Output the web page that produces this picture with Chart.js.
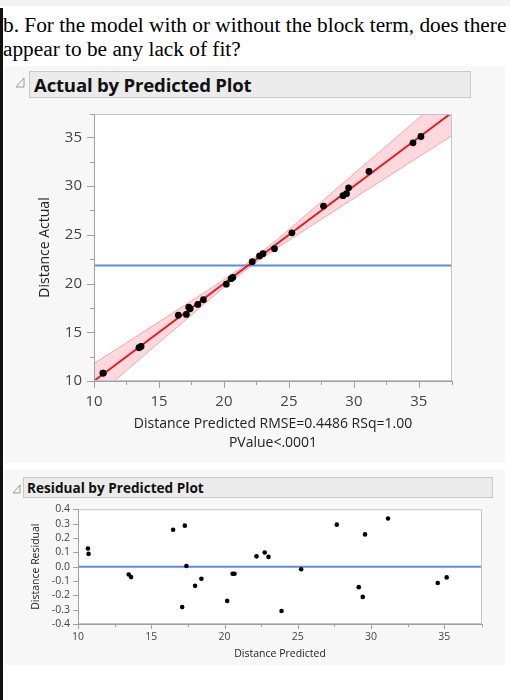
<!DOCTYPE html>
<html lang="en">
<head>
<meta charset="UTF-8">
<title>Actual by Predicted Plot</title>
<script src="https://cdn.jsdelivr.net/npm/chart.js@4"></script>
<style>
  body { margin: 0; width: 510px; height: 700px; background: #fff; position: relative; overflow: hidden; font-family: 'Open Sans', sans-serif; }
  .strip { position: absolute; left: 0; top: 0; width: 510px; height: 6px; background: #f2f2f2; }
  .edge { position: absolute; left: 0; top: 8px; width: 3px; height: 692px; background: #111; }
  .question { position: absolute; left: 3px; top: 13px; font: 21.3px 'Liberation Serif', serif; line-height: 24px; color: #000; white-space: nowrap; }
  .panel { position: absolute; left: 5px; width: 500px; background: #f7f7f7; }
  .hdr { position: absolute; background: #ebebeb; border: 1px solid #c9c9c9; box-sizing: border-box; font-family: 'Open Sans', sans-serif; font-weight: bold; color: #111; white-space: nowrap; }
  .tri { position: absolute; }
  canvas { position: absolute; }
</style>
</head>
<body>
<div class="strip"></div>
<div class="edge"></div>
<div class="question">b. For the model with or without the block term, does there<br>appear to be any lack of fit?</div>

<div class="panel" style="top:66px;height:397px;"></div>
<svg class="tri" style="left:15px;top:77px;" width="10" height="11"><polygon points="1,10 9,10 9,1" fill="none" stroke="#999" stroke-width="1"/></svg>
<div class="hdr" style="left:29px;top:71px;width:442px;height:27px;font-size:18.6px;line-height:25px;padding-left:4px;letter-spacing:-0.2px;">Actual by Predicted Plot</div>
<canvas id="actual" width="460" height="360" style="left:10px;top:100px;"></canvas>

<div class="panel" style="top:470px;height:195px;"></div>
<svg class="tri" style="left:12px;top:484px;" width="9" height="10"><polygon points="1,9 8,9 8,1" fill="none" stroke="#999" stroke-width="1"/></svg>
<div class="hdr" style="left:23px;top:477px;width:470px;height:21px;font-size:13.6px;line-height:19px;padding-left:3px;">Residual by Predicted Plot</div>
<canvas id="resid" width="480" height="165" style="left:10px;top:500px;"></canvas>

<script>
// values
const predicted = [10.68, 10.72, 13.46, 13.62, 16.49, 17.11, 17.29, 17.40, 17.99, 18.42, 20.18, 20.55, 20.68,
  22.18, 22.74, 23.00, 23.89, 25.23, 27.66, 29.16, 29.43, 29.59, 31.16, 34.55, 35.16];
const residual = [0.127, 0.089, -0.055, -0.073, 0.257, -0.282, 0.286, 0.005, -0.134, -0.084, -0.239, -0.05, -0.05,
  0.072, 0.099, 0.068, -0.309, -0.018, 0.293, -0.143, -0.211, 0.225, 0.336, -0.114, -0.075];
const actual = [10.81, 10.81, 13.41, 13.55, 16.75, 16.83, 17.58, 17.41, 17.86, 18.34, 19.94, 20.50, 20.63,
  22.25, 22.84, 23.07, 23.58, 25.21, 27.95, 29.02, 29.22, 29.82, 31.50, 34.44, 35.09];

const fitX = [10, 37.6];
const fitY = [10, 37.6];
const meanActual = 21.84;
const bandX = [10, 12.5, 15, 17.5, 20, 21.84, 24, 27, 30, 33, 37.6];
const bandUpper = [11.80, 13.93, 16.07, 18.22, 20.41, 22.14, 24.44, 27.83, 31.26, 34.70, 39.98];
const bandLower = [8.20, 11.07, 13.93, 16.78, 19.59, 21.54, 23.56, 26.17, 28.74, 31.30, 35.22];

const xTicksTop = { min: 10, max: 37.55, step: 2.5 };
const yTicksTop = { min: 10, max: 37.4, step: 2.5 };
const xTicksRes = { min: 10, max: 37.57, step: 2.5 };
const yTicksRes = { min: -0.4, max: 0.4, step: 0.1 };

const xTitleTop = ['Distance Predicted RMSE=0.4486 RSq=1.00', 'PValue<.0001'];
const yTitleTop = 'Distance Actual';
const xTitleRes = 'Distance Predicted';
const yTitleRes = 'Distance Residual';

const BLUE = 'rgb(88,140,232)';
const RED = 'rgb(228,30,42)';

// white plot area, gray frame and JMP style tick marks
const frame = {
  id: 'frame',
  beforeDraw(chart) {
    const { ctx, chartArea: a } = chart;
    ctx.save();
    ctx.fillStyle = '#fff';
    ctx.fillRect(a.left, a.top, a.right - a.left, a.bottom - a.top);
    ctx.restore();
  },
  afterDraw(chart, args, o) {
    const { ctx, chartArea: a, scales: { x, y } } = chart;
    ctx.save();
    ctx.lineWidth = 1;
    ctx.strokeStyle = '#c6c6c6';
    ctx.strokeRect(a.left + 0.5, a.top + 0.5, a.right - a.left - 1, a.bottom - a.top - 1);
    ctx.strokeStyle = '#a0a0a0';
    ctx.beginPath();
    ctx.moveTo(a.left + 0.5, a.top);
    ctx.lineTo(a.left + 0.5, a.bottom + 0.5);
    ctx.lineTo(a.right, a.bottom + 0.5);
    x.ticks.forEach(t => {
      const px = Math.round(x.getPixelForValue(t.value)) + 0.5;
      const len = Math.abs(t.value % 5) < 1e-6 ? o.major : o.minor;
      ctx.moveTo(px, a.bottom);
      ctx.lineTo(px, a.bottom + len);
    });
    y.ticks.forEach(t => {
      const py = Math.round(y.getPixelForValue(t.value)) + 0.5;
      const len = o.yAllMajor || Math.abs(t.value % 5) < 1e-6 ? o.yMajor : o.minor;
      ctx.moveTo(a.left, py);
      ctx.lineTo(a.left - len, py);
    });
    ctx.stroke();
    ctx.restore();
  }
};

const hidden = { display: false, drawTicks: true };

new Chart(document.getElementById('actual'), {
  type: 'line',
  data: {
    datasets: [
      { data: predicted.map((p, i) => ({ x: p, y: actual[i] })), showLine: false,
        pointRadius: 3.4, pointBackgroundColor: '#000', pointBorderWidth: 0 },
      { data: fitX.map((v, i) => ({ x: v, y: fitY[i] })), borderColor: RED, borderWidth: 2, pointRadius: 0 },
      { data: fitX.map(v => ({ x: v, y: meanActual })), borderColor: BLUE, borderWidth: 2, pointRadius: 0 },
      { data: bandX.map((v, i) => ({ x: v, y: bandUpper[i] })), borderColor: 'rgba(240,120,130,0.6)',
        borderWidth: 1, pointRadius: 0, tension: 0.3 },
      { data: bandX.map((v, i) => ({ x: v, y: bandLower[i] })), borderColor: 'rgba(240,120,130,0.6)',
        borderWidth: 1, pointRadius: 0, tension: 0.3, fill: '-1', backgroundColor: 'rgba(250,160,170,0.4)' }
    ]
  },
  options: {
    responsive: false,
    animation: false,
    layout: { padding: { top: 12, right: 18, left: 0, bottom: 0 } },
    plugins: { legend: { display: false }, tooltip: { enabled: false },
      frame: { major: 7, minor: 4, yMajor: 7 } },
    scales: {
      x: {
        type: 'linear', min: xTicksTop.min, max: xTicksTop.max,
        grid: { ...hidden, tickLength: 7 }, border: { display: false },
        ticks: { stepSize: xTicksTop.step, autoSkip: false, maxRotation: 0, padding: 5, color: '#444',
          font: { family: 'Open Sans', size: 15 }, callback: v => v % 5 === 0 ? v : '' },
        title: { display: true, text: xTitleTop, color: '#222', font: { family: 'Open Sans', size: 14, lineHeight: 1.4 },
          padding: { top: 0, bottom: 7 } },
        afterFit: s => { s.height = 79; }
      },
      y: {
        min: yTicksTop.min, max: yTicksTop.max,
        grid: { ...hidden, tickLength: 7 }, border: { display: false },
        ticks: { stepSize: yTicksTop.step, autoSkip: false, padding: 5, color: '#444',
          font: { family: 'Open Sans', size: 15 }, callback: v => v % 5 === 0 ? v : '' },
        title: { display: true, text: yTitleTop, color: '#222', font: { family: 'Open Sans', size: 14 },
          padding: { top: 27, bottom: 0 } },
        afterFit: s => { s.width = 84; }
      }
    }
  },
  plugins: [frame]
});

new Chart(document.getElementById('resid'), {
  type: 'line',
  data: {
    datasets: [
      { data: predicted.map((p, i) => ({ x: p, y: residual[i] })), showLine: false,
        pointRadius: 2.3, pointBackgroundColor: '#000', pointBorderWidth: 0 },
      { data: [{ x: xTicksRes.min, y: 0 }, { x: xTicksRes.max, y: 0 }],
        borderColor: BLUE, borderWidth: 2, pointRadius: 0 }
    ]
  },
  options: {
    responsive: false,
    animation: false,
    layout: { padding: { top: 7, right: 8, left: 0, bottom: 0 } },
    plugins: { legend: { display: false }, tooltip: { enabled: false },
      frame: { major: 5, minor: 3, yMajor: 5, yAllMajor: true } },
    scales: {
      x: {
        type: 'linear', min: xTicksRes.min, max: xTicksRes.max,
        grid: { ...hidden, tickLength: 5 }, border: { display: false },
        ticks: { stepSize: xTicksRes.step, autoSkip: false, maxRotation: 0, padding: 2, color: '#444',
          font: { family: 'Open Sans', size: 10.5 }, callback: v => v % 5 === 0 ? v : '' },
        title: { display: true, text: xTitleRes, color: '#222', font: { family: 'Open Sans', size: 10.5 },
          padding: { top: 0, bottom: 5 } },
        afterFit: s => { s.height = 41; }
      },
      y: {
        min: yTicksRes.min, max: yTicksRes.max,
        grid: { ...hidden, tickLength: 5 }, border: { display: false },
        ticks: { stepSize: yTicksRes.step, autoSkip: false, padding: 3, color: '#444',
          font: { family: 'Open Sans', size: 10.5 },
          callback: v => Math.abs(v) < 1e-9 ? '0.0' : v.toFixed(1) },
        title: { display: true, text: yTitleRes, color: '#222', font: { family: 'Open Sans', size: 10.5 },
          padding: { top: 20, bottom: 0 } },
        afterFit: s => { s.width = 68; }
      }
    }
  },
  plugins: [frame]
});
</script>
</body>
</html>
